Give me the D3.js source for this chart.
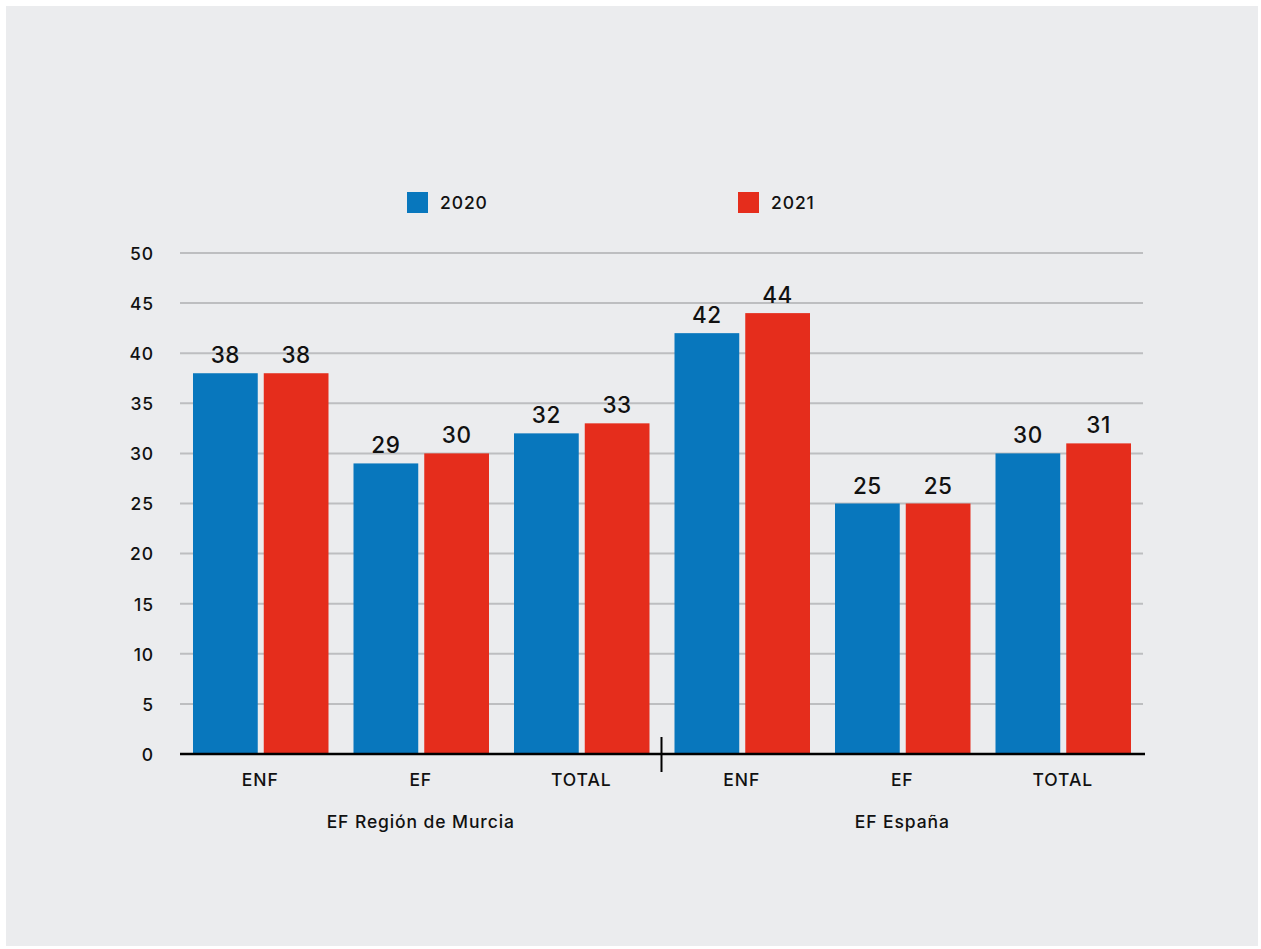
<!DOCTYPE html>
<html>
<head>
<meta charset="utf-8">
<script src="https://cdn.jsdelivr.net/npm/d3@7"></script>
<style>
  html, body { margin: 0; padding: 0; background: #ffffff; }
  svg { display: block; }
  text { font-family: Inter, "DejaVu Sans", sans-serif; fill: #111; font-weight: 500; }
</style>
</head>
<body>
<div id="chart"></div>
<script>
// Groups and their categories
const groups = ["EF Región de Murcia", "EF España"];
const categories = ["ENF", "EF", "TOTAL"];
const seriesNames = ["2020", "2021"];
const seriesColors = ["#0877BD", "#E52D1C"];
// values per series, in order: Murcia ENF, EF, TOTAL, España ENF, EF, TOTAL
const values2020 = [38, 29, 32, 42, 25, 30];
const values2021 = [38, 30, 33, 44, 25, 31];
const yTicks = [0, 5, 10, 15, 20, 25, 30, 35, 40, 45, 50];

const W = 1261, H = 949;
const margin = { left: 180, right: 118, top: 253, bottom: 195 };
const labelFont = { size: "17.5px", spacing: "0.9px" };

const svg = d3.select("#chart").append("svg")
  .attr("width", W).attr("height", H);

// panel background
svg.append("rect")
  .attr("x", 6).attr("y", 6)
  .attr("width", W - 9).attr("height", H - 9)
  .attr("fill", "#EBECEE");

const plotW = W - margin.left - margin.right;
const plotH = H - margin.top - margin.bottom;
const g = svg.append("g").attr("transform", `translate(${margin.left},${margin.top})`);

function labelStyle(sel) {
  return sel.style("font-size", labelFont.size)
    .style("letter-spacing", labelFont.spacing)
    .style("font-weight", 500)
    .style("font-family", "Inter, sans-serif")
    .style("fill", "#111");
}

// flat list of slots: each category inside each group
const slots = [];
groups.forEach((grp, gi) => categories.forEach((c, ci) => {
  const i = gi * categories.length + ci;
  slots.push({ key: grp + "|" + c, group: grp, cat: c, vals: [values2020[i], values2021[i]] });
}));

const x = d3.scaleBand().domain(slots.map(d => d.key)).range([0, plotW]).paddingInner(0).paddingOuter(0);
const xs = d3.scaleBand().domain(seriesNames).range([13, x.bandwidth() - 12]).paddingInner(0.085);
const y = d3.scaleLinear().domain([0, 50]).range([plotH, 0]);

// gridlines
g.append("g").selectAll("line").data(yTicks.filter(t => t > 0)).join("line")
  .attr("x1", 0).attr("x2", plotW)
  .attr("y1", d => y(d)).attr("y2", d => y(d))
  .attr("stroke", "#BDBEC0").attr("stroke-width", 2);

// y axis labels
const yAxis = g.append("g").call(d3.axisLeft(y).tickValues(yTicks).tickSize(0).tickPadding(0));
yAxis.select(".domain").remove();
yAxis.selectAll("text")
  .attr("x", -26).attr("text-anchor", "end").attr("dy", "0.36em")
  .call(labelStyle);

// bars
const slotG = g.selectAll(".slot").data(slots).join("g")
  .attr("class", "slot")
  .attr("transform", d => `translate(${x(d.key)},0)`);

slotG.selectAll("rect").data(d => d.vals.map((v, i) => ({ v, s: seriesNames[i], i }))).join("rect")
  .attr("x", d => xs(d.s))
  .attr("width", xs.bandwidth())
  .attr("y", d => y(d.v))
  .attr("height", d => plotH - y(d.v))
  .attr("fill", d => seriesColors[d.i]);

// value labels
slotG.selectAll("text.val").data(d => d.vals.map((v, i) => ({ v, s: seriesNames[i] }))).join("text")
  .attr("class", "val")
  .attr("x", d => xs(d.s) + xs.bandwidth() / 2)
  .attr("y", d => y(d.v) - 10)
  .attr("text-anchor", "middle")
  .style("font-size", "22.5px").style("font-weight", 500).style("letter-spacing", "0.6px")
  .text(d => d.v);

// x axis baseline
g.append("line")
  .attr("x1", 0).attr("x2", plotW + 2)
  .attr("y1", plotH).attr("y2", plotH)
  .attr("stroke", "#000").attr("stroke-width", 2.5);

// category labels
slotG.append("text")
  .attr("x", x.bandwidth() / 2)
  .attr("y", plotH + 32)
  .attr("text-anchor", "middle")
  .call(labelStyle)
  .text(d => d.cat);

// group labels
groups.forEach((grp, gi) => {
  const first = x(grp + "|" + categories[0]);
  const last = x(grp + "|" + categories[categories.length - 1]) + x.bandwidth();
  g.append("text")
    .attr("x", (first + last) / 2)
    .attr("y", plotH + 74)
    .attr("text-anchor", "middle")
    .call(labelStyle)
    .text(grp);
});

// divider between groups
const divX = x(groups[1] + "|" + categories[0]);
g.append("line")
  .attr("x1", divX).attr("x2", divX)
  .attr("y1", plotH - 17).attr("y2", plotH + 18)
  .attr("stroke", "#000").attr("stroke-width", 2);

// legend
const legendX = [407, 738];
const legend = svg.append("g").selectAll("g").data(seriesNames).join("g")
  .attr("transform", (d, i) => `translate(${legendX[i]},192)`);
legend.append("rect").attr("width", 21).attr("height", 21)
  .attr("fill", (d, i) => seriesColors[i]);
legend.append("text").attr("x", 33).attr("y", 17)
  .call(labelStyle)
  .text(d => d);
</script>
</body>
</html>
